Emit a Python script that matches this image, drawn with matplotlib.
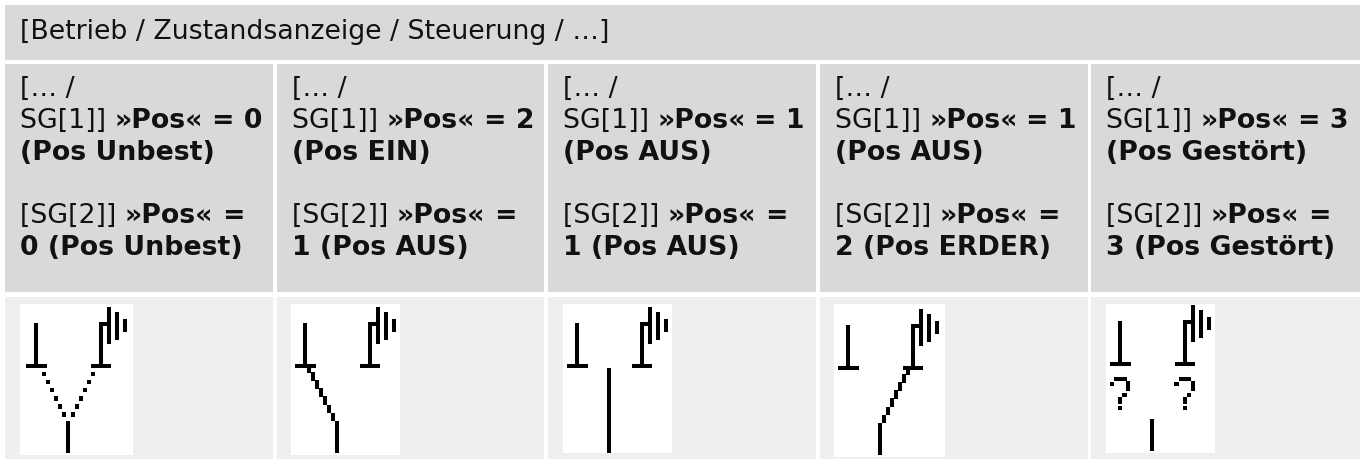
from matplotlib import pyplot as plt
from matplotlib.patches import Rectangle

header = "[Betrieb / Zustandsanzeige / Steuerung / …]"
sg1_values = ["0", "2", "1", "1", "3"]
sg1_names = ["Pos Unbest", "Pos EIN", "Pos AUS", "Pos AUS", "Pos Gestört"]
sg2_values = ["0", "1", "1", "2", "3"]
sg2_names = ["Pos Unbest", "Pos AUS", "Pos AUS", "Pos ERDER", "Pos Gestört"]
states = ["open_both", "closed_left", "off", "closed_right", "fault"]

cell_left = [5, 277, 548, 820, 1091]
cell_right = [273, 544, 816, 1088, 1360]
img_left = [20, 291, 563, 834, 1106]
img_right = [133, 400, 672, 945, 1215]
img_bottom = [455, 455, 453, 457, 453]
sym_x = [22, 291, 563, 834, 1106]
sym_y = [304, 304, 304, 306, 302]

DARK = "#d9d9d9"
LIGHT = "#efefef"
FS = 19.25
LW = 2.9


def text_width(s, weight):
    t = ax.text(0, 0, s + "|", fontsize=FS, fontweight=weight)
    t2 = ax.text(0, 0, "|", fontsize=FS, fontweight=weight)
    r = fig.canvas.get_renderer()
    w = t.get_window_extent(r).width - t2.get_window_extent(r).width
    t.remove()
    t2.remove()
    return w


def draw_runs(x, y, runs):
    for s, weight in runs:
        ax.text(x, y, s, fontsize=FS, fontweight=weight, color="#111111", va="baseline", ha="left")
        x += text_width(s, weight)


def seg(x0, y0, x1, y1, ox, oy, lw=LW):
    ax.plot([ox + x0, ox + x1], [oy + y0, oy + y1], color="k", lw=lw, solid_capstyle="butt")


def pixel(x, y, ox, oy, size=4.4):
    ax.add_patch(Rectangle((ox + x - size / 2, oy + y - size / 2), size, size, fc="k", ec="none"))


def draw_symbol(ox, oy, state):
    # left contact
    seg(14, 19, 14, 62, ox, oy)
    seg(4, 62, 24.5, 62, ox, oy)
    # right contact with earth
    seg(78.7, 19, 78.7, 62, ox, oy)
    seg(68.5, 62, 89, 62, ox, oy)
    seg(77, 20, 86.7, 20, ox, oy)
    seg(86.7, 3, 86.7, 40, ox, oy)
    seg(94.7, 8, 94.7, 36, ox, oy)
    seg(102.7, 15, 102.7, 28, ox, oy)
    if state == "off":
        seg(46.3, 64, 46.3, 149, ox, oy)
        return
    seg(46.3, 117, 46.3, 149, ox, oy)
    if state == "open_both":
        for i in range(6):
            pixel(22 + 4 * i, 70 + 8.1 * i, ox, oy)
            pixel(70.7 - 4 * i, 70 + 8.1 * i, ox, oy)
    elif state == "closed_left":
        for i in range(7):
            seg(18.3 + 4 * i, (60 + 8.1 * i) if i else 63, 18.3 + 4 * i, 68.5 + 8.1 * i, ox, oy)
    elif state == "closed_right":
        for i in range(7):
            seg(74.3 - 4 * i, (60 + 8.1 * i) if i else 63, 74.3 - 4 * i, 68.5 + 8.1 * i, ox, oy)
    elif state == "fault":
        for cx in [14, 78.7]:
            pixel(cx - 8.3, 82, ox, oy)
            seg(cx - 6, 77, cx + 6.5, 77, ox, oy)
            seg(cx + 8.3, 79, cx + 8.3, 89, ox, oy)
            pixel(cx + 4.3, 93, ox, oy)
            seg(cx, 95, cx, 102, ox, oy)
            pixel(cx, 106, ox, oy)


fig = plt.figure(figsize=(13.65, 4.59), dpi=100)
ax = fig.add_axes([0, 0, 1, 1])
ax.set_xlim(0, 1365)
ax.set_ylim(459, 0)
ax.axis("off")

ax.add_patch(Rectangle((5, 5), 1355, 54.5, fc=DARK, ec="none"))
ax.text(20, 39, header, fontsize=FS, color="#111111", va="baseline", ha="left")

for i in range(5):
    left = cell_left[i]
    width = cell_right[i] - left
    ax.add_patch(Rectangle((left, 64), width, 228, fc=DARK, ec="none"))
    ax.add_patch(Rectangle((left, 297), width, 162, fc=LIGHT, ec="none"))
    ax.add_patch(Rectangle((img_left[i], 304), img_right[i] - img_left[i], img_bottom[i] - 304, fc="white", ec="none"))

    x = left + 15
    draw_runs(x, 96, [("[… /", "normal")])
    draw_runs(x, 128, [("SG[1]] ", "normal"), ("»Pos«", "bold"), (" ", "normal"), ("= " + sg1_values[i], "bold")])
    draw_runs(x, 160, [("(" + sg1_names[i] + ")", "bold")])
    draw_runs(x, 223, [("[SG[2]] ", "normal"), ("»Pos«", "bold"), (" ", "normal"), ("=", "bold")])
    draw_runs(x, 255, [(sg2_values[i] + " (" + sg2_names[i] + ")", "bold")])

    draw_symbol(sym_x[i], sym_y[i], states[i])

fig.savefig("out.png", dpi=100)
